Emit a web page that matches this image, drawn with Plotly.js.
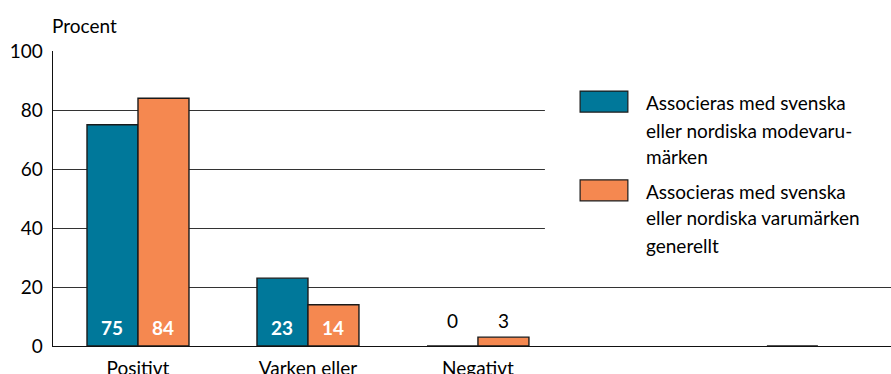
<!DOCTYPE html>
<html>
<head>
<meta charset="utf-8">
<script src="https://cdn.plot.ly/plotly-3.0.1.min.js"></script>
<style>
  html, body { margin: 0; padding: 0; background: #fff; }
  #chart { width: 891px; height: 374px; }
</style>
</head>
<body>
<div id="chart"></div>
<script>
// Answer categories (the last two slots are unlabeled)
const categories = ["Positivt", "Varken eller", "Negativt", "", ""];

// Share of respondents, per cent
const seriesNames = [
  "Associeras med svenska eller nordiska modevarumärken",
  "Associeras med svenska eller nordiska varumärken generellt"
];
const fashionBrands = [75, 23, 0, null, 0];
const brandsGeneral = [84, 14, 3, null, null];

// Legend text, wrapped as printed
const legendLines = [
  ["Associeras med svenska", "eller nordiska modevaru-", "märken"],
  ["Associeras med svenska", "eller nordiska varumärken", "generellt"]
];

const yTicks = [0, 20, 40, 60, 80, 100];

const colors = ["#00789a", "#f58850"];
const FONT = "Lato, 'Liberation Sans', Arial, sans-serif";

const xIdx = categories.map((_, i) => i);
const seriesValues = [fashionBrands, brandsGeneral];

const traces = seriesValues.map((vals, s) => ({
  type: "bar",
  name: seriesNames[s],
  x: xIdx,
  y: vals,
  marker: { color: colors[s], line: { color: "#1a1a1a", width: 1.4 } },
  hoverinfo: "skip"
}));

// Value labels: white bold inside tall bars, plain black above short ones
const annotations = [];
seriesValues.forEach((vals, s) => {
  vals.forEach((v, i) => {
    if (v === null || i > 2) return;
    const inside = v >= 10;
    annotations.push({
      xref: "x", yref: "y",
      x: i + (s === 0 ? -0.15 : 0.15),
      y: inside ? 6.2 : 8.8,
      text: String(v),
      showarrow: false,
      xanchor: "center", yanchor: "middle",
      font: { family: FONT, size: 19, color: inside ? "#ffffff" : "#000000",
              weight: inside ? 700 : 400 }
    });
  });
});

// Axis caption
annotations.push({
  xref: "paper", yref: "paper", x: -0.003, y: 1.088,
  xanchor: "left", yanchor: "middle", showarrow: false,
  text: "Procent", font: { family: FONT, size: 19, color: "#000" }
});

// Legend block drawn by hand: white panel, swatches and wrapped labels
const shapes = [
  { type: "rect", xref: "paper", yref: "paper", layer: "above",
    x0: 0.587, x1: 1.0, y0: 0.26, y1: 0.85,
    fillcolor: "#ffffff", line: { width: 0 } }
];
const swatchY = [[0.793, 0.864], [0.492, 0.563]];
const lineY = [[0.824, 0.732, 0.641], [0.525, 0.434, 0.342]];
legendLines.forEach((lines, s) => {
  shapes.push({
    type: "rect", xref: "paper", yref: "paper", layer: "above",
    x0: 0.629, x1: 0.686, y0: swatchY[s][0], y1: swatchY[s][1],
    fillcolor: colors[s], line: { color: "#1a1a1a", width: 1.2 }
  });
  lines.forEach((t, k) => {
    annotations.push({
      xref: "paper", yref: "paper", x: 0.705, y: lineY[s][k],
      xanchor: "left", yanchor: "middle", showarrow: false,
      text: t, font: { family: FONT, size: 19, color: "#000" }
    });
  });
});

const layout = {
  width: 891, height: 374,
  margin: { l: 53, r: 0, t: 51, b: 28, pad: 0 },
  paper_bgcolor: "#fff", plot_bgcolor: "#fff",
  showlegend: false,
  barmode: "group", bargap: 0.4, bargroupgap: 0,
  font: { family: FONT, size: 19, color: "#000" },
  xaxis: {
    type: "linear",
    range: [-0.5, 4.43],
    tickvals: xIdx, ticktext: categories,
    showgrid: false, zeroline: false,
    showline: true, linecolor: "#111", linewidth: 1.4,
    ticks: "", ticklabelstandoff: 5,
    tickfont: { family: FONT, size: 19, color: "#000" },
    fixedrange: true
  },
  yaxis: {
    range: [0, 100],
    tickvals: yTicks,
    showgrid: true, gridcolor: "#333", gridwidth: 1,
    zeroline: false,
    showline: true, linecolor: "#111", linewidth: 1.4,
    ticks: "", ticklabelstandoff: 5,
    tickfont: { family: FONT, size: 19, color: "#000" },
    fixedrange: true
  },
  shapes: shapes,
  annotations: annotations
};

Plotly.newPlot("chart", traces, layout, { displayModeBar: false, staticPlot: true });
</script>
</body>
</html>
